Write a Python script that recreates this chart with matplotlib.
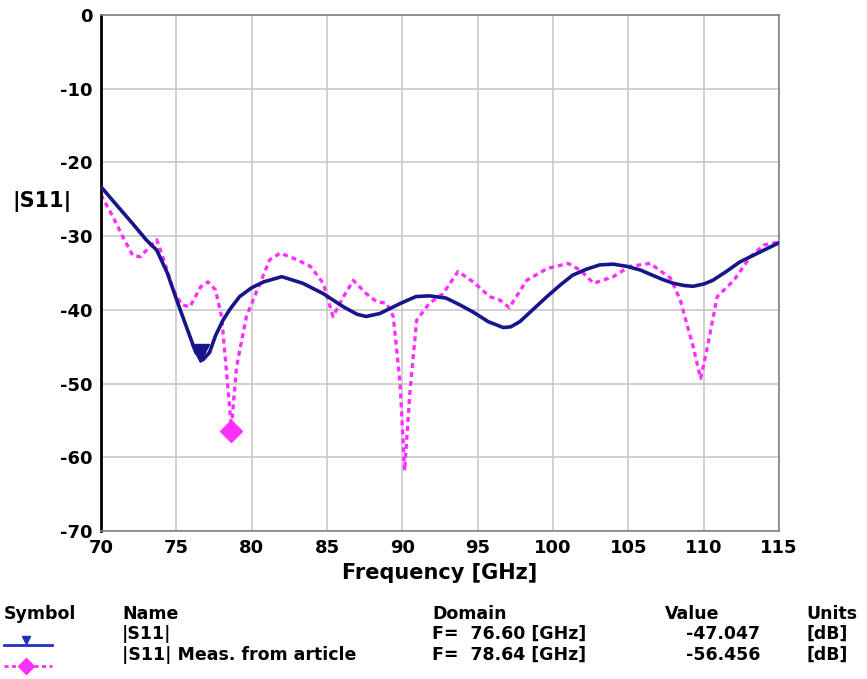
import matplotlib
matplotlib.use("Agg")
import matplotlib.pyplot as plt

plt.rcParams["axes.unicode_minus"] = False

# simulated |S11| (solid navy)
sim_f = [70.0, 71.0, 72.1, 73.0, 73.7, 74.4, 75.1, 75.9, 76.3, 76.75, 77.2, 77.6, 78.1,
         78.6, 79.2, 80.0, 80.8, 82.0, 83.4, 84.75, 86.1, 87.0, 87.6, 88.5, 89.2, 89.9,
         90.9, 91.8, 92.9, 93.8, 94.7, 95.7, 96.7, 97.2, 97.8, 98.7, 99.6, 100.5, 101.3,
         102.2, 103.1, 104.0, 104.9, 105.8, 106.6, 107.3, 108.0, 108.7, 109.3, 110.0,
         110.6, 111.5, 112.4, 113.7, 115.0]
sim_db = [-23.3, -25.7, -28.3, -30.5, -31.9, -35.0, -39.1, -43.6, -45.8, -46.8, -45.8,
          -43.5, -41.4, -39.8, -38.2, -37.0, -36.2, -35.5, -36.4, -37.8, -39.6, -40.6,
          -40.9, -40.5, -39.8, -39.1, -38.2, -38.1, -38.4, -39.3, -40.3, -41.6, -42.4,
          -42.3, -41.6, -39.9, -38.2, -36.6, -35.3, -34.5, -33.9, -33.8, -34.1, -34.6,
          -35.3, -35.9, -36.4, -36.7, -36.8, -36.5, -36.0, -34.8, -33.5, -32.2, -30.9]

# measured |S11| from article (dotted magenta)
meas_f = [70.0, 70.8, 71.5, 72.1, 72.6, 73.25, 73.7, 74.1, 74.8, 75.35, 75.9, 76.6, 77.1,
          77.6, 78.0, 78.3, 78.65, 79.0, 79.65, 80.55, 81.2, 81.9, 83.0, 83.9, 84.75,
          85.4, 86.1, 86.75, 87.6, 88.3, 88.95, 89.4, 89.85, 90.15, 90.5, 90.95, 91.8,
          92.7, 93.7, 94.7, 95.8, 96.5, 97.1, 98.25, 99.6, 101.0, 101.8, 102.7, 104.0,
          105.1, 106.45, 107.8, 108.45, 109.3, 109.8, 110.25, 110.9, 112.0, 113.1, 114.0,
          115.0]
meas_db = [-24.4, -27.4, -30.3, -32.6, -32.8, -31.4, -30.5, -32.8, -37.3, -39.3, -39.6,
           -36.9, -36.2, -37.3, -40.9, -47.7, -56.0, -47.7, -40.9, -36.4, -33.2, -32.3,
           -33.2, -34.1, -36.4, -40.9, -38.2, -36.0, -37.8, -38.9, -39.1, -40.9, -50.0,
           -61.8, -51.3, -41.4, -39.1, -37.8, -34.8, -36.2, -38.2, -38.7, -39.7, -36.0,
           -34.4, -33.7, -34.6, -36.4, -35.5, -34.1, -33.7, -35.7, -38.7, -45.0, -49.3,
           -45.0, -38.2, -36.0, -32.8, -31.2, -30.8]

# marker readouts
mark_f = [76.60, 78.64]
mark_db = [-47.047, -56.456]
row_names = ["|S11|", "|S11| Meas. from article"]

navy = "#16168a"
magenta = "#ff30ff"

fig = plt.figure(figsize=(8.67, 6.79), dpi=100)
ax = fig.add_axes([101 / 867, 1 - 531 / 679, 678 / 867, 516 / 679])

ax.plot(sim_f, sim_db, color=navy, lw=2.6, zorder=3)
ax.plot(meas_f, meas_db, color=magenta, lw=2.4, ls=(0, (1.5, 1.2)), zorder=2)
ax.plot(mark_f[0], mark_db[0] + 1.2, marker="v", ms=13, color=navy, zorder=4)
ax.plot(mark_f[1], mark_db[1], marker="D", ms=11, color=magenta, zorder=4)

ax.set_xlim(70, 115)
ax.set_ylim(-70, 0)
ax.set_xticks(range(70, 116, 5))
ax.set_yticks(range(-70, 1, 10))
ax.grid(True, color="#c8c8c8", lw=1.2)
ax.set_axisbelow(True)
ax.tick_params(length=0, pad=6, labelsize=13)
for lbl in ax.get_xticklabels() + ax.get_yticklabels():
    lbl.set_fontweight("bold")
for sp in ax.spines.values():
    sp.set_color("#808080")
    sp.set_linewidth(1.2)
ax.spines["left"].set_color("black")
ax.spines["left"].set_linewidth(2)

ax.set_xlabel("Frequency [GHz]", fontsize=15, fontweight="bold", labelpad=4)
fig.text(12 / 867, 1 - 201 / 679, "|S11|", fontsize=15, fontweight="bold",
         ha="left", va="center")

# readout table under the chart
fs = 12.5
def ftxt(x, y, s, ha="left"):
    fig.text(x / 867, 1 - y / 679, s, fontsize=fs, fontweight="bold", ha=ha, va="center")

ftxt(4, 614, "Symbol")
ftxt(122, 614, "Name")
ftxt(432, 614, "Domain")
ftxt(665, 614, "Value")
ftxt(806, 614, "Units")
for i, y in enumerate([634, 655]):
    ftxt(122, y, row_names[i])
    ftxt(432, y, "F=  %.2f [GHz]" % mark_f[i])
    ftxt(760, y, "%.3f" % mark_db[i], ha="right")
    ftxt(806, y, "[dB]")

# legend symbols
lx = [4 / 867, 52 / 867]
fig.add_artist(plt.Line2D(lx, [1 - 645 / 679] * 2, color="#2030c0", lw=2))
fig.add_artist(plt.Line2D([26 / 867], [1 - 640 / 679], marker="v", ms=6, color="#2030c0"))
fig.add_artist(plt.Line2D(lx, [1 - 666 / 679] * 2, color=magenta, lw=2, ls=(0, (1.5, 1.2))))
fig.add_artist(plt.Line2D([26 / 867], [1 - 666 / 679], marker="D", ms=8, color=magenta))

fig.savefig("out.png", dpi=100)
